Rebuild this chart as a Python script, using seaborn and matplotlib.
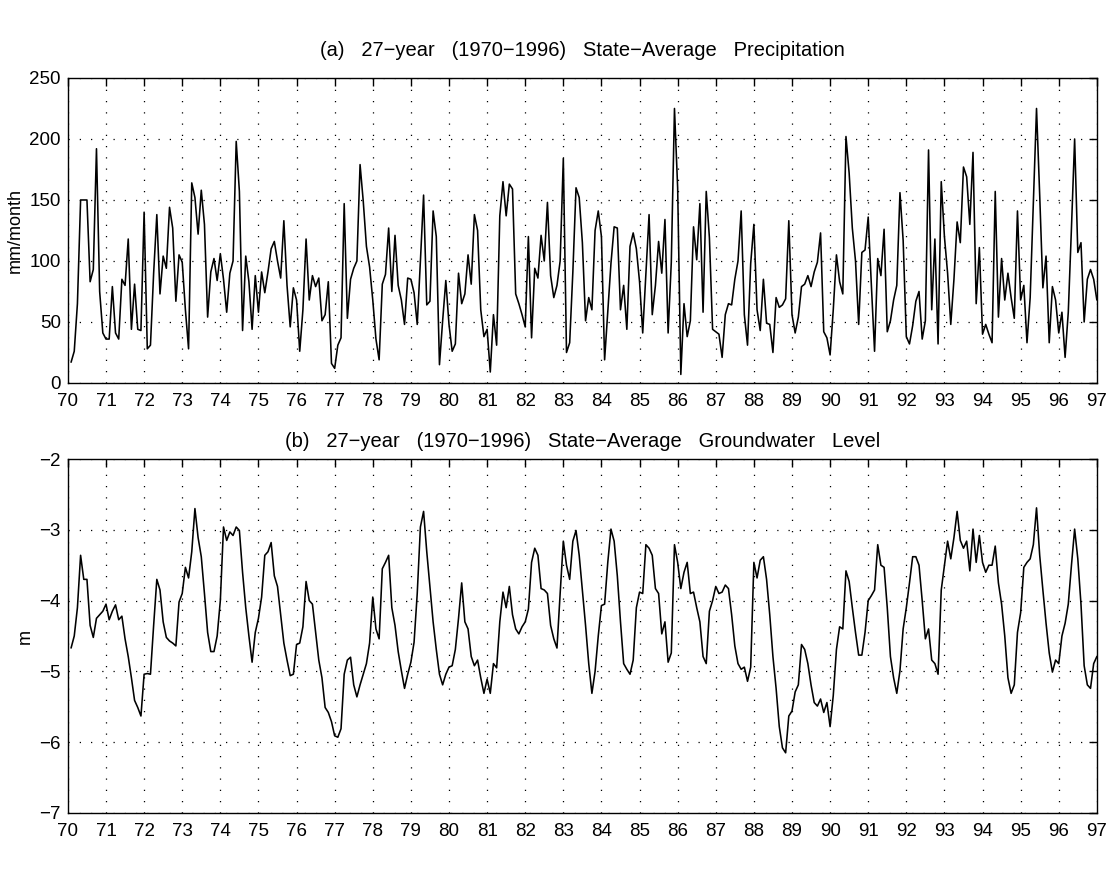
import numpy as np
import pandas as pd
import matplotlib
matplotlib.use("Agg")
import matplotlib.pyplot as plt
import seaborn as sns

# Monthly state-average precipitation (mm/month), Jan 1970 .. Dec 1996
precip = [
    17, 26, 65, 150, 150, 150, 83, 93, 192, 75, 41, 36,
    36, 79, 41, 36, 85, 80, 118, 44, 81, 44, 43, 140,
    28, 31, 90, 138, 73, 104, 94, 144, 127, 67, 105, 99,
    60, 28, 164, 152, 122, 158, 130, 54, 91, 102, 84, 106,
    85, 58, 90, 100, 198, 157, 43, 104, 83, 44, 88, 58,
    91, 74, 91, 110, 116, 100, 86, 133, 80, 46, 78, 68,
    26, 60, 118, 68, 88, 79, 86, 51, 56, 83, 16, 12,
    31, 37, 147, 53, 85, 94, 100, 179, 149, 112, 95, 68,
    36, 19, 81, 89, 127, 75, 121, 80, 68, 48, 86, 85,
    74, 48, 100, 154, 64, 67, 141, 120, 15, 51, 84, 48,
    26, 32, 90, 65, 73, 105, 81, 138, 125, 60, 38, 44,
    9, 56, 31, 137, 165, 137, 163, 159, 73, 65, 56, 46,
    120, 37, 94, 86, 121, 100, 148, 88, 70, 80, 100, 184,
    25, 33, 91, 160, 152, 115, 51, 70, 60, 125, 141, 120,
    19, 58, 98, 128, 127, 60, 80, 44, 112, 123, 110, 83,
    41, 89, 138, 56, 80, 116, 90, 134, 41, 99, 225, 160,
    7, 65, 38, 51, 128, 101, 147, 58, 157, 119, 44, 42,
    40, 21, 56, 65, 64, 85, 100, 141, 56, 31, 98, 130,
    60, 43, 85, 49, 48, 25, 70, 62, 64, 69, 133, 56,
    41, 54, 79, 81, 88, 79, 91, 99, 123, 42, 37, 23,
    60, 105, 83, 73, 202, 172, 127, 100, 48, 107, 109, 136,
    80, 26, 102, 88, 126, 42, 51, 68, 80, 156, 117, 38,
    32, 47, 67, 75, 36, 51, 191, 60, 118, 32, 165, 120,
    90, 48, 85, 132, 115, 177, 169, 130, 189, 65, 111, 40,
    48, 40, 33, 157, 54, 102, 68, 90, 70, 53, 141, 68,
    80, 33, 70, 147, 225, 154, 78, 104, 33, 79, 68, 41,
    58, 21, 58, 127, 200, 107, 115, 50, 85, 93, 85, 68,
]

# Monthly state-average groundwater level (m)
groundwater = [
    -4.67, -4.50, -4.10, -3.36, -3.70, -3.70, -4.35, -4.52, -4.25, -4.20, -4.15, -4.05,
    -4.27, -4.15, -4.06, -4.27, -4.22, -4.54, -4.79, -5.09, -5.41, -5.51, -5.63, -5.04,
    -5.03, -5.04, -4.35, -3.70, -3.85, -4.30, -4.52, -4.57, -4.60, -4.64, -4.02, -3.90,
    -3.53, -3.68, -3.31, -2.70, -3.11, -3.38, -3.90, -4.45, -4.72, -4.72, -4.50, -4.00,
    -2.96, -3.15, -3.03, -3.08, -2.96, -3.01, -3.60, -4.10, -4.50, -4.87, -4.45, -4.25,
    -3.95, -3.36, -3.31, -3.18, -3.65, -3.80, -4.20, -4.60, -4.84, -5.06, -5.04, -4.62,
    -4.60, -4.37, -3.73, -4.00, -4.05, -4.45, -4.84, -5.09, -5.51, -5.58, -5.71, -5.91,
    -5.93, -5.81, -5.04, -4.84, -4.80, -5.19, -5.36, -5.19, -5.04, -4.89, -4.60, -3.95,
    -4.40, -4.54, -3.55, -3.46, -3.36, -4.10, -4.35, -4.72, -4.99, -5.24, -5.04, -4.87,
    -4.59, -3.90, -2.96, -2.74, -3.31, -3.80, -4.30, -4.69, -5.04, -5.19, -5.04, -4.94,
    -4.92, -4.69, -4.25, -3.75, -4.30, -4.40, -4.79, -4.92, -4.84, -5.09, -5.31, -5.11,
    -5.31, -4.89, -4.95, -4.30, -3.88, -4.10, -3.80, -4.20, -4.40, -4.47, -4.37, -4.30,
    -4.12, -3.46, -3.26, -3.36, -3.83, -3.85, -3.90, -4.35, -4.54, -4.67, -3.90, -3.16,
    -3.50, -3.70, -3.16, -3.01, -3.36, -3.85, -4.35, -4.89, -5.31, -5.00, -4.50, -4.07,
    -4.05, -3.46, -2.99, -3.16, -3.65, -4.30, -4.89, -4.97, -5.04, -4.84, -4.10, -3.88,
    -3.90, -3.21, -3.26, -3.36, -3.83, -3.90, -4.47, -4.30, -4.87, -4.74, -3.21, -3.46,
    -3.83, -3.60, -3.46, -3.90, -3.88, -4.10, -4.30, -4.79, -4.89, -4.15, -4.00, -3.80,
    -3.90, -3.88, -3.78, -3.83, -4.20, -4.64, -4.89, -4.97, -4.94, -5.14, -4.94, -3.46,
    -3.68, -3.43, -3.38, -3.70, -4.20, -4.79, -5.24, -5.78, -6.08, -6.15, -5.63, -5.56,
    -5.29, -5.19, -4.62, -4.69, -4.89, -5.19, -5.44, -5.49, -5.39, -5.58, -5.44, -5.78,
    -5.34, -4.69, -4.37, -4.40, -3.58, -3.73, -4.10, -4.45, -4.77, -4.77, -4.45, -4.00,
    -3.93, -3.85, -3.21, -3.50, -3.53, -4.10, -4.79, -5.09, -5.31, -4.99, -4.40, -4.10,
    -3.75, -3.38, -3.38, -3.50, -4.00, -4.54, -4.40, -4.84, -4.89, -5.04, -3.85, -3.50,
    -3.16, -3.41, -3.11, -2.74, -3.15, -3.26, -3.16, -3.58, -2.99, -3.46, -3.08, -3.46,
    -3.60, -3.50, -3.50, -3.23, -3.75, -4.05, -4.50, -5.09, -5.31, -5.19, -4.45, -4.17,
    -3.53, -3.46, -3.41, -3.21, -2.69, -3.36, -3.85, -4.32, -4.74, -5.01, -4.84, -4.89,
    -4.50, -4.32, -4.05, -3.50, -2.99, -3.41, -4.05, -4.92, -5.19, -5.24, -4.89, -4.79,
]

year_ticks = list(range(70, 98))
year_labels = [str(y) for y in year_ticks]
precip_yticks = [0, 50, 100, 150, 200, 250]
gw_yticks = [-7, -6, -5, -4, -3, -2]

title_a = "(a)   27\u2212year   (1970\u22121996)   State\u2212Average   Precipitation"
title_b = "(b)   27\u2212year   (1970\u22121996)   State\u2212Average   Groundwater   Level"

n = len(precip)
t = 70 + (np.arange(n) + 1) / 12.0
df = pd.DataFrame({"t": t, "precip": precip, "gw": groundwater})

sns.set_theme(style="white")
plt.rcParams["font.family"] = ["Liberation Sans", "DejaVu Sans"]
plt.rcParams["axes.unicode_minus"] = True

fig = plt.figure(figsize=(11.13, 8.77), dpi=100)
ax1 = fig.add_axes([0.061, 0.5633, 0.9245, 0.3478])
ax2 = fig.add_axes([0.061, 0.073, 0.9245, 0.4036])

sns.lineplot(data=df, x="t", y="precip", ax=ax1, color="black", linewidth=1.15)
sns.lineplot(data=df, x="t", y="gw", ax=ax2, color="black", linewidth=1.15)

for ax, yt, yl, title, tpad in [
    (ax1, precip_yticks, "mm/month", title_a, 16),
    (ax2, gw_yticks, "m", title_b, 9),
]:
    ax.set_xlim(70, 97)
    ax.set_ylim(yt[0], yt[-1])
    ax.set_xticks(year_ticks)
    ax.set_xticklabels(year_labels)
    ax.set_yticks(yt)
    ax.grid(True, color="black", linestyle=(0, (1, 8)), linewidth=0.9)
    ax.tick_params(axis="both", direction="in", top=True, right=True, length=6,
                   width=1, labelsize=13.5, colors="black")
    ax.tick_params(axis="x", pad=7)
    ax.tick_params(axis="y", pad=5)
    for s in ax.spines.values():
        s.set_color("black")
        s.set_linewidth(1.0)
    ax.set_xlabel("")
    ax.set_ylabel(yl, fontsize=13, color="black")
    ax.set_title(title, fontsize=14.5, color="black", pad=tpad)

fig.savefig("out.png", dpi=100)
